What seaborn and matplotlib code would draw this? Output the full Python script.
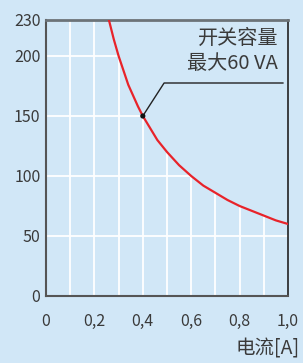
import matplotlib
matplotlib.use("Agg")
import matplotlib.pyplot as plt
import seaborn as sns
import pandas as pd
from matplotlib.patches import Polygon

# data
current = [0.26, 0.27, 0.28, 0.29, 0.30, 0.32, 0.34, 0.36, 0.38, 0.40, 0.43, 0.46, 0.50,
           0.55, 0.60, 0.65, 0.70, 0.75, 0.80, 0.85, 0.90, 0.95, 1.00]
voltage = [230, 222, 214, 207, 200, 188, 176, 167, 158, 150, 140, 130, 120,
           109, 100, 92, 86, 80, 75, 71, 67, 63, 60]
marker_x = [0.4]
marker_y = [150]
x_ticks = [0, 0.2, 0.4, 0.6, 0.8, 1.0]
x_tick_labels = ["0", "0,2", "0,4", "0,6", "0,8", "1,0"]
y_ticks = [0, 50, 100, 150, 200, 230]
grid_x = [0.1, 0.2, 0.3, 0.4, 0.5, 0.6, 0.7, 0.8, 0.9]
grid_y = [50, 100, 150, 200]
annotation = "开关容量\n最大60 VA"
x_label = "电流[A]"

sns.set_style("white")
plt.rcParams['font.family'] = ['Noto Sans CJK SC', 'DejaVu Sans']

bg = "#d1e7f7"
fig = plt.figure(figsize=(3.03, 3.63), dpi=100, facecolor=bg)
ax = fig.add_axes([46/303, (363-296)/363, 242/303, 276/363])
ax.set_facecolor(bg)

df = pd.DataFrame({"I": current, "V": voltage})
sns.lineplot(data=df, x="I", y="V", ax=ax, color="#e8232a", linewidth=1.6, zorder=3)
sns.scatterplot(x=marker_x, y=marker_y, ax=ax, color="#111111", s=14, zorder=5, edgecolor="none")

ax.set_xlim(0, 1.0)
ax.set_ylim(0, 230)

# region under the curve, used to clip the grid
verts = [(0, 0), (0, 260), (current[0], 260)] + list(zip(current, voltage)) + [(current[-1], 0)]
clip = Polygon(verts, closed=True, transform=ax.transData, facecolor="none", edgecolor="none")
ax.add_patch(clip)

for gx in grid_x:
    ln = ax.axvline(gx, color="white", lw=1.3, zorder=1)
    ln.set_clip_path(clip)
for gy in grid_y:
    ln = ax.axhline(gy, color="white", lw=1.3, zorder=1)
    ln.set_clip_path(clip)

ax.set_xticks(x_ticks)
ax.set_xticklabels(x_tick_labels)
ax.set_xticks([0.1, 0.3, 0.5, 0.7, 0.9], minor=True)
ax.set_yticks(y_ticks)
ax.set_yticklabels([str(v) for v in y_ticks])
ax.tick_params(axis="both", which="both", direction="out", length=3, width=1.2,
               color="#555555", labelcolor="#3a3a3a", labelsize=11.5, pad=4)
ax.tick_params(axis="x", pad=9)
ax.tick_params(axis="y", pad=1)

for side in ["left", "bottom"]:
    ax.spines[side].set_color("#555555")
    ax.spines[side].set_linewidth(1.5)
ax.spines["top"].set_color("#6c7378")
ax.spines["top"].set_linewidth(2)
ax.spines["right"].set_color("#222222")
ax.spines["right"].set_linewidth(1.2)

ax.set_xlabel("")
ax.set_ylabel("")

# annotation leader line
ax.plot([0.4, 0.488, 0.98], [150, 177.5, 177.5], color="#222222", lw=1, zorder=4)
ax.text(0.96, 223, annotation, ha="right", va="top", fontsize=14.5,
        color="#3a3a3a", linespacing=1.2, zorder=6)

fig.text(300/303, 1 - 349/363, x_label, ha="right", va="center", fontsize=14, color="#3a3a3a")

fig.savefig("out.png", dpi=100, facecolor=bg)
